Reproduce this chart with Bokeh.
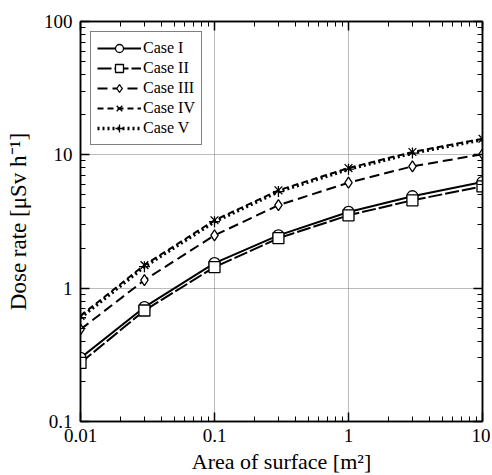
from bokeh.plotting import figure
from bokeh.models import LogAxis, Legend, LegendItem, FixedTicker
from bokeh.embed import file_html
from bokeh.resources import INLINE

area = [0.01, 0.03, 0.1, 0.3, 1, 3, 10]
case1 = [0.30, 0.72, 1.54, 2.49, 3.73, 4.89, 6.25]
case2 = [0.275, 0.68, 1.44, 2.37, 3.52, 4.56, 5.80]
case3 = [0.49, 1.15, 2.49, 4.19, 6.18, 8.2, 10.1]
case4 = [0.62, 1.49, 3.23, 5.42, 7.96, 10.5, 13.2]
case5 = [0.60, 1.45, 3.15, 5.30, 7.80, 10.3, 13.0]
names = ["Case I", "Case II", "Case III", "Case IV", "Case V"]
x_ticks = [0.01, 0.1, 1, 10]
x_tick_labels = ["0.01", "0.1", "1", "10"]
y_ticks = [0.1, 1, 10, 100]
y_tick_labels = ["0.1", "1", "10", "100"]

FONT = "Liberation Serif"

p = figure(x_axis_type="log", y_axis_type="log",
           x_range=(0.01, 10), y_range=(0.1, 100),
           frame_width=402, frame_height=400,
           min_border_left=80, min_border_right=8, min_border_top=21, min_border_bottom=52,
           output_backend="svg", toolbar_location=None)
p.outline_line_color = "black"
p.outline_line_width = 1.5
p.background_fill_color = "white"
p.border_fill_color = "white"

xminor = [m * 10 ** e for e in range(-2, 1) for m in range(2, 10)]
yminor = [m * 10 ** e for e in range(-1, 2) for m in range(2, 10)]

xb = p.xaxis[0]
yl = p.yaxis[0]
xb.ticker = FixedTicker(ticks=x_ticks, minor_ticks=xminor)
yl.ticker = FixedTicker(ticks=y_ticks, minor_ticks=yminor)
xb.major_label_overrides = {t: s for t, s in zip(x_ticks, x_tick_labels)}
yl.major_label_overrides = {t: s for t, s in zip(y_ticks, y_tick_labels)}
for ax in (xb, yl):
    ax.axis_line_color = "black"
    ax.axis_line_width = 1.5
    ax.major_tick_in = 9
    ax.major_tick_out = 0
    ax.minor_tick_in = 5
    ax.minor_tick_out = 0
    ax.major_tick_line_width = 1.5
    ax.major_label_text_font = FONT
    ax.major_label_text_font_size = "19px"
    ax.major_label_text_color = "black"
    ax.axis_label_text_font = FONT
    ax.axis_label_text_font_size = "22px"
    ax.axis_label_text_font_style = "normal"
    ax.axis_label_text_color = "black"
xb.axis_label = "Area of surface [m²]"
yl.axis_label = "Dose rate [μSv h⁻¹]"
yl.axis_label_text_font_size = "23px"
xb.major_label_standoff = 7
xb.axis_label_standoff = 4
yl.major_label_standoff = 8
yl.axis_label_standoff = 10

top = LogAxis(ticker=FixedTicker(ticks=x_ticks, minor_ticks=xminor))
right = LogAxis(ticker=FixedTicker(ticks=y_ticks, minor_ticks=yminor))
for ax in (top, right):
    ax.axis_line_color = "black"
    ax.axis_line_width = 1.5
    ax.major_tick_in = 9
    ax.major_tick_out = 0
    ax.minor_tick_in = 5
    ax.minor_tick_out = 0
    ax.major_tick_line_width = 1.5
    ax.major_label_text_font_size = "0px"
    ax.major_label_text_color = None
    ax.major_label_standoff = 0
p.add_layout(top, "above")
p.add_layout(right, "right")

for g in (p.xgrid[0], p.ygrid[0]):
    g.grid_line_color = "#777777"
    g.grid_line_dash = "1 1"
    g.grid_line_width = 1
p.xgrid[0].ticker = FixedTicker(ticks=x_ticks)
p.ygrid[0].ticker = FixedTicker(ticks=y_ticks)

series = [case1, case2, case3, case4, case5]
dashes = ["solid", "14 3", "10 5", "6 4", "2 3"]
widths = [2, 2, 2, 2, 3.5]
markers = ["circle", "square", "diamond", "x", "cross"]
items = []
for name, ys, d, w, m in zip(names, series, dashes, widths, markers):
    l = p.line(area, ys, line_color="black", line_width=w, line_dash=d)
    s = p.scatter(area, ys, marker=m, size=11, line_color="black",
                  fill_color="white" if m in ("circle", "square", "diamond") else None,
                  line_width=1.3)
    items.append(LegendItem(label=name, renderers=[l, s]))

legend = Legend(items=items, location="top_left")
legend.margin = 10
legend.padding = 6
legend.spacing = 0
legend.label_text_font = FONT
legend.label_text_font_size = "16px"
legend.label_text_color = "black"
legend.glyph_width = 44
legend.glyph_height = 20
legend.label_height = 20
legend.label_standoff = 2
legend.border_line_color = "black"
legend.border_line_width = 1.5
legend.background_fill_alpha = 1
p.add_layout(legend, "center")

open("out.html", "w").write(file_html(p, INLINE))
